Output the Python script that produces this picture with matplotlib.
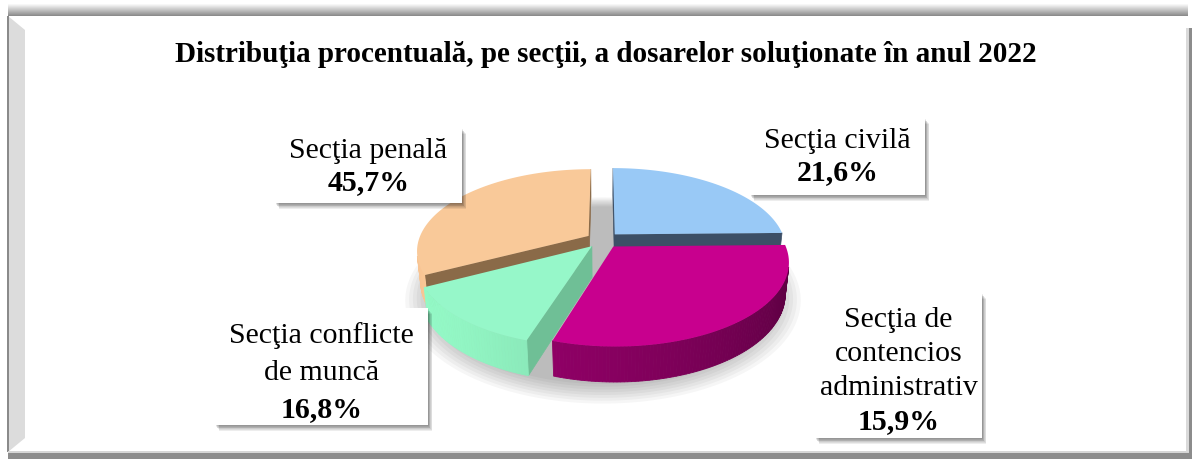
import numpy as np
import matplotlib
matplotlib.use("Agg")
import matplotlib.pyplot as plt
from matplotlib.patches import Polygon, Rectangle
from matplotlib.colors import to_rgb

plt.rcParams['font.family'] = ['Liberation Serif', 'DejaVu Serif']

title = "Distribuţia procentuală, pe secţii, a dosarelor soluţionate în anul 2022"
sections = ["Secţia civilă", "Secţia de\ncontencios\nadministrativ",
            "Secţia conflicte\nde muncă", "Secţia penală"]
percent_labels = ["21,6%", "15,9%", "16,8%", "45,7%"]
# slice sizes as they are drawn in the picture (not the printed labels)
slice_share = [24.7, 30.2, 12.5, 32.6]
top_colors = ["#99c9f6", "#c8008e", "#96f7c9", "#f9c999"]
wall_colors = ["#6f9fd0", "#8a0062", "#86e2b4", "#e3b487"]
edge_colors = ["#3c4f66", "#5a0040", "#6fbf96", "#8a6a48"]

# label boxes in pixels: x0, y0, x1, y1, first baseline, line pitch
boxes = [(750, 118, 925, 195, 148, 32), (815, 293, 982, 438, 327, 34),
         (215, 308, 428, 425, 343, 37), (275, 128, 462, 203, 158, 32)]

W, H = 1192, 459
fig = plt.figure(figsize=(W / 100, H / 100), dpi=100)
ax = fig.add_axes([0, 0, 1, 1])
ax.set_xlim(0, W)
ax.set_ylim(H, 0)
ax.axis('off')

# ---- frame ----
for i in range(12):
    g = 0.97 - 0.42 * i / 11
    ax.add_patch(Rectangle((8, 4 + i), 1180, 1.05, color=(g, g, g), lw=0, zorder=1))
ax.add_patch(Polygon([(8, 16), (25, 30), (25, 438), (8, 452)], closed=True,
                     color="#dcdcdc", lw=0, zorder=1))
ax.add_patch(Rectangle((7, 16), 1.6, 436, color="#8a8a8a", lw=0, zorder=1))
ax.add_patch(Rectangle((8, 451), 1182, 1.5, color="#d6d6d6", lw=0, zorder=1))
ax.add_patch(Rectangle((8, 452.5), 1184, 7, color="#8c8c8c", lw=0, zorder=1))
ax.add_patch(Rectangle((1186, 28), 2.5, 424, color="#dadada", lw=0, zorder=1))
ax.add_patch(Rectangle((1188.5, 28), 4, 425, color="#8c8c8c", lw=0, zorder=1))

ax.text(606, 61.5, title, ha='center', va='baseline', fontsize=21,
        fontweight='bold', color='black', zorder=5)

# ---- 3D pie ----
cx, cy = 603, 240
f, D = 850, 5.0
elev = np.radians(28)
thick = 0.21
explode = 0.1
cam = np.array([0, D * np.cos(elev), D * np.sin(elev)])


def project(X, Y, Z):
    up = Z * np.cos(elev) - Y * np.sin(elev)
    toward = Y * np.cos(elev) + Z * np.sin(elev)
    depth = D - toward
    return cx + f * X / depth, cy - f * up / depth


def visible(normal, point):
    return np.dot(normal, cam - np.asarray(point)) > 0


def shade(color, th):
    k = 0.85 + 0.25 * np.cos(th - np.radians(150))
    return tuple(np.clip(np.array(to_rgb(color)) * k, 0, 1))


# soft shadow under the pie
ts = np.linspace(0, 2 * np.pi, 200)
for s in np.linspace(1.15, 1.0, 8):
    sx, sy = project(s * np.cos(ts), s * np.sin(ts) + 0.07, -thick - 0.02)
    ax.add_patch(Polygon(np.column_stack([sx, sy]), closed=True,
                         color='black', alpha=0.035, lw=0, zorder=2))

bounds = np.radians(-90 + np.concatenate([[0], np.cumsum(slice_share)]) * 3.6)
slices = []
for i in range(len(slice_share)):
    a, b = bounds[i], bounds[i + 1]
    mid = (a + b) / 2
    slices.append((np.sin(mid), i, a, b, mid))
slices.sort()

for order, (_, i, a, b, mid) in enumerate(slices):
    ox, oy = explode * np.cos(mid), explode * np.sin(mid)
    zb = 3 + order * 3

    # radial walls
    for ang, n in ((a, (np.sin(a), -np.cos(a), 0)), (b, (-np.sin(b), np.cos(b), 0))):
        p = (ox + 0.5 * np.cos(ang), oy + 0.5 * np.sin(ang), -thick / 2)
        if visible(n, p):
            X = [ox, ox + np.cos(ang), ox + np.cos(ang), ox]
            Y = [oy, oy + np.sin(ang), oy + np.sin(ang), oy]
            Z = [0, 0, -thick, -thick]
            px, py = project(np.array(X), np.array(Y), np.array(Z))
            ax.add_patch(Polygon(np.column_stack([px, py]), closed=True,
                                 color=edge_colors[i], lw=0.5, zorder=zb))

    # outer wall
    th = np.linspace(a, b, max(int(np.degrees(b - a)), 2) + 1)
    for t0, t1 in zip(th[:-1], th[1:]):
        tm = (t0 + t1) / 2
        p = (ox + np.cos(tm), oy + np.sin(tm), -thick / 2)
        if visible((np.cos(tm), np.sin(tm), 0), p):
            X = ox + np.cos([t0, t1, t1, t0])
            Y = oy + np.sin([t0, t1, t1, t0])
            Z = np.array([0, 0, -thick, -thick])
            px, py = project(X, Y, Z)
            c = shade(wall_colors[i], tm)
            ax.add_patch(Polygon(np.column_stack([px, py]), closed=True,
                                 facecolor=c, edgecolor=c, lw=0.6, zorder=zb + 1))

    # top face
    th = np.linspace(a, b, 120)
    X = np.concatenate([[ox], ox + np.cos(th)])
    Y = np.concatenate([[oy], oy + np.sin(th)])
    px, py = project(X, Y, np.zeros_like(X))
    ax.add_patch(Polygon(np.column_stack([px, py]), closed=True,
                         color=top_colors[i], lw=0, zorder=zb + 2))

# ---- label boxes ----
for i, (x0, y0, x1, y1, base, pitch) in enumerate(boxes):
    for k in range(7):
        ax.add_patch(Rectangle((x0 + 0.5 + k * 0.6, y0 + 1 + k * 0.8), x1 - x0, y1 - y0,
                               color='black', alpha=0.07, lw=0, zorder=20))
    ax.add_patch(Rectangle((x0, y0), x1 - x0, y1 - y0, color='white', lw=0, zorder=21))
    xc = (x0 + x1) / 2
    lines = sections[i].split("\n")
    for j, line in enumerate(lines):
        ax.text(xc, base + j * pitch, line, ha='center', va='baseline',
                fontsize=21.5, zorder=22)
    ax.text(xc, base + len(lines) * pitch, percent_labels[i], ha='center',
            va='baseline', fontsize=21.5, fontweight='bold', zorder=22)

fig.savefig("out.png", dpi=100)
